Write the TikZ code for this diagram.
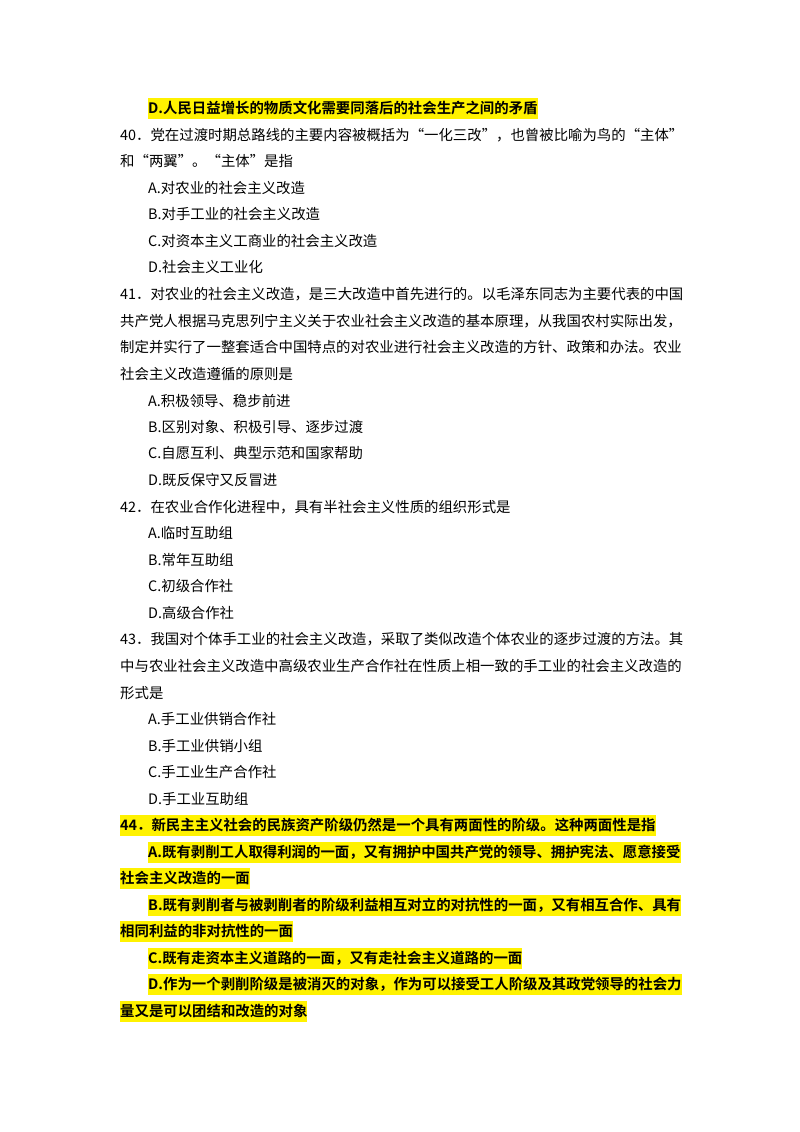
\documentclass[tikz,border=0pt]{standalone}
\usepackage{fontspec}
\setmainfont{Noto Sans CJK SC}
\newfontfamily\hlfont{Noto Sans CJK SC Bold}
\begin{document}
\begin{tikzpicture}[x=1pt,y=-1pt,
  ln/.style={anchor=base west,inner sep=0pt,font=\fontsize{14.4}{16}\selectfont},
  hl/.style={ln,fill=yellow,inner ysep=2.5pt,text height=13pt,text depth=3pt,font=\fontsize{14.4}{16}\hlfont}]
\fill[white] (0,0) rectangle (800,1132);
\useasboundingbox (0,0) rectangle (800,1132);
\node[hl] (l1) at (148,113) {D.人民日益增长的物质文化需要同落后的社会生产之间的矛盾};
\node[ln] (l2) at (120,140) {40．党在过渡时期总路线的主要内容被概括为“一化三改”，也曾被比喻为鸟的“主体”};
\node[ln] (l3) at (120,166) {和“两翼”。“主体”是指};
\node[ln] (l4) at (148,193) {A.对农业的社会主义改造};
\node[ln] (l5) at (148,219) {B.对手工业的社会主义改造};
\node[ln] (l6) at (148,246) {C.对资本主义工商业的社会主义改造};
\node[ln] (l7) at (148,272) {D.社会主义工业化};
\node[ln] (l8) at (120,299) {41．对农业的社会主义改造，是三大改造中首先进行的。以毛泽东同志为主要代表的中国};
\node[ln] (l9) at (120,326) {共产党人根据马克思列宁主义关于农业社会主义改造的基本原理，从我国农村实际出发，};
\node[ln] (l10) at (120,352) {制定并实行了一整套适合中国特点的对农业进行社会主义改造的方针、政策和办法。农业};
\node[ln] (l11) at (120,379) {社会主义改造遵循的原则是};
\node[ln] (l12) at (148,406) {A.积极领导、稳步前进};
\node[ln] (l13) at (148,432) {B.区别对象、积极引导、逐步过渡};
\node[ln] (l14) at (148,458) {C.自愿互利、典型示范和国家帮助};
\node[ln] (l15) at (148,485) {D.既反保守又反冒进};
\node[ln] (l16) at (120,512) {42．在农业合作化进程中，具有半社会主义性质的组织形式是};
\node[ln] (l17) at (148,538) {A.临时互助组};
\node[ln] (l18) at (148,565) {B.常年互助组};
\node[ln] (l19) at (148,591) {C.初级合作社};
\node[ln] (l20) at (148,618) {D.高级合作社};
\node[ln] (l21) at (120,644) {43．我国对个体手工业的社会主义改造，采取了类似改造个体农业的逐步过渡的方法。其};
\node[ln] (l22) at (120,671) {中与农业社会主义改造中高级农业生产合作社在性质上相一致的手工业的社会主义改造的};
\node[ln] (l23) at (120,698) {形式是};
\node[ln] (l24) at (148,724) {A.手工业供销合作社};
\node[ln] (l25) at (148,751) {B.手工业供销小组};
\node[ln] (l26) at (148,777) {C.手工业生产合作社};
\node[ln] (l27) at (148,804) {D.手工业互助组};
\node[hl] (l28) at (120,830) {44．新民主主义社会的民族资产阶级仍然是一个具有两面性的阶级。这种两面性是指};
\node[hl] (l29) at (148,857) {A.既有剥削工人取得利润的一面，又有拥护中国共产党的领导、拥护宪法、愿意接受};
\node[hl] (l30) at (120,883) {社会主义改造的一面};
\node[hl] (l31) at (148,910) {B.既有剥削者与被剥削者的阶级利益相互对立的对抗性的一面，又有相互合作、具有};
\node[hl] (l32) at (120,936) {相同利益的非对抗性的一面};
\node[hl] (l33) at (148,963) {C.既有走资本主义道路的一面，又有走社会主义道路的一面};
\node[hl] (l34) at (148,989) {D.作为一个剥削阶级是被消灭的对象，作为可以接受工人阶级及其政党领导的社会力};
\node[hl] (l35) at (120,1016) {量又是可以团结和改造的对象};
\end{tikzpicture}
\end{document}
